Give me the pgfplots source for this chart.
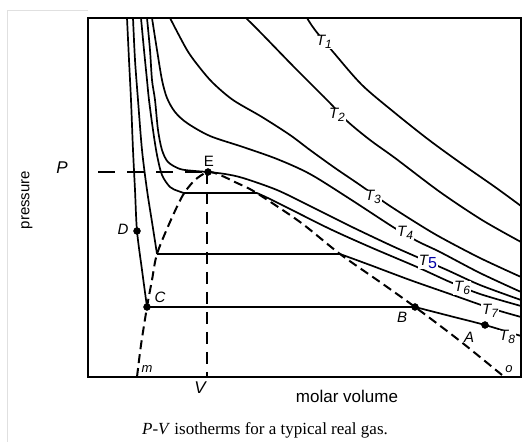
\documentclass[border=0pt]{standalone}
\usepackage{fontspec}
\setmainfont{Liberation Serif}
\setsansfont{Liberation Sans}
\usepackage{pgfplots}
\pgfplotsset{compat=1.18}
\tikzset{
  iso/.style={smooth, black, mark=none, line width=1.7bp},
  tie/.style={black, mark=none, line width=1.2bp},
  dome/.style={smooth, black, mark=none, line width=2bp, dash pattern=on 9bp off 5bp},
  tlab/.style={fill=white, inner sep=0.6pt, font=\sffamily\itshape\fontsize{15bp}{17bp}\selectfont},
  plab/.style={inner sep=0pt, font=\sffamily\itshape\fontsize{15bp}{17bp}\selectfont},
}
\newcommand{\Tl}[1]{T\raisebox{-0.35ex}{\fontsize{12bp}{13bp}\selectfont #1}}
\begin{document}
\begin{tikzpicture}
\path[use as bounding box] (0,0) rectangle (524bp,442bp);
\begin{axis}[
  at={(88bp,65bp)}, anchor=south west,
  width=433bp, height=359bp, scale only axis,
  xmin=88, xmax=521, ymin=0, ymax=359,
  xtick=\empty, ytick=\empty,
  axis line style={line width=2bp},
  clip=false,
]
% faint scan frame
\draw[black!12, line width=1bp] (axis cs:8,-65) -- (axis cs:8,366) -- (axis cs:88,366);

% isotherms (x: molar volume, y: pressure)
\addplot[iso] coordinates {(307,359) (315,347) (334,324) (362,292) (395,264) (429,237) (462,213) (495,190) (521,171)};
\addplot[iso] coordinates {(246,359) (262,343) (295,309) (329,275) (347,256) (370,237) (395,219) (440,185) (482,157) (521,135)};
\addplot[iso] coordinates {(170,359) (187,327) (200,309) (213,294) (233,277) (262,260) (290,242) (310,227) (335,209) (360,192) (387,173) (415,155) (440,140) (480,119) (521,100)};
\addplot[iso] coordinates {(152,359) (157,327) (162,297) (167,279) (175,265) (187,254) (210,241) (243,230) (277,218) (310,203) (350,178) (393,150) (417,136) (440,125) (480,104) (521,85)};
\addplot[iso] coordinates {(147,359) (150,327) (152,297) (155,277) (158,247) (162,227) (168,215) (180,208) (195,206) (208,205) (225,203) (243,199) (277,187) (310,171) (350,151) (390,132) (417,120) (447,107) (480,92) (521,77)};
% T6
\addplot[iso] coordinates {(141,359) (144,327) (147,297) (149,277) (153,247) (157,222) (162,202) (170,190) (178,186) (184,184)};
\addplot[tie] coordinates {(184,184) (257,184)};
\addplot[iso] coordinates {(257,184) (270,178) (290,168) (330,148) (370,130) (417,110) (450,95) (480,83) (521,71)};
% T7
\addplot[iso] coordinates {(133,359) (135,317) (138,277) (142,227) (147,187) (152,155) (157,123)};
\addplot[tie] coordinates {(157,123) (340,123)};
\addplot[iso] coordinates {(340,123) (370,112) (410,97) (450,83) (490,69) (521,60)};
% T8
\addplot[iso] coordinates {(127,359) (129,317) (131,277) (133,227) (135,187) (137,146) (142,107) (147,70)};
\addplot[tie] coordinates {(147,70) (415,70)};
\addplot[iso] coordinates {(415,70) (450,61) (485,52) (521,41)};

% coexistence dome
\addplot[dome] coordinates {(137,0) (141,32) (147,70) (152,97) (157,123) (170,155) (183,182) (195,197) (208,205) (220,202) (237,194) (255,185) (300,155) (340,123) (380,95) (415,70) (460,36) (502,2)};

% critical pressure and volume
\addplot[black, mark=none, line width=1.6bp, dash pattern=on 17bp off 12bp] coordinates {(98,205) (208,205)};
\addplot[black, mark=none, line width=1.6bp, dash pattern=on 12bp off 8bp] coordinates {(207,205) (207,0)};

% marked states
\addplot[only marks, mark=*, mark size=3.5bp, black] coordinates {(137,146) (147,70) (415,70) (485,52) (208,205)};

% isotherm labels
\node[tlab] at (axis cs:324,335) {\Tl{1}};
\node[tlab] at (axis cs:337,262) {\Tl{2}};
\node[tlab] at (axis cs:373,180) {\Tl{3}};
\node[tlab] at (axis cs:405,144) {\Tl{4}};
\node[tlab] at (axis cs:428,115) {T\raisebox{-0.4ex}{\upshape\color{blue!65!black}\fontsize{16bp}{17bp}\selectfont 5}};
\node[tlab] at (axis cs:462,89) {\Tl{6}};
\node[tlab] at (axis cs:490,66) {\Tl{7}};
\node[tlab] at (axis cs:507,40) {\Tl{8}};

% point labels
\node[plab] at (axis cs:209,216) {\upshape E};
\node[plab] at (axis cs:123,148) {D};
\node[plab] at (axis cs:160,80) {C};
\node[plab] at (axis cs:402,60) {B};
\node[plab] at (axis cs:469,40) {A};
\node[plab, font=\sffamily\itshape\fontsize{13bp}{15bp}\selectfont] at (axis cs:147,8) {m};
\node[plab, font=\sffamily\itshape\fontsize{13bp}{15bp}\selectfont] at (axis cs:509,8) {o};

% axis texts
\node[font=\sffamily\itshape\fontsize{17bp}{19bp}\selectfont] at (axis cs:62,209) {P};
\node[font=\sffamily\itshape\fontsize{17bp}{19bp}\selectfont] at (axis cs:200,-11) {V};
\node[rotate=90, font=\sffamily\fontsize{15bp}{17bp}\selectfont] at (axis cs:27,177) {pressure};
\node[font=\sffamily\fontsize{17bp}{19bp}\selectfont] at (axis cs:347,-19) {molar volume};
\node[font=\fontsize{17bp}{20bp}\selectfont] at (axis cs:265,-53) {\textit{P}-\textit{V} isotherms for a typical real gas.};
\end{axis}
\end{tikzpicture}
\end{document}
